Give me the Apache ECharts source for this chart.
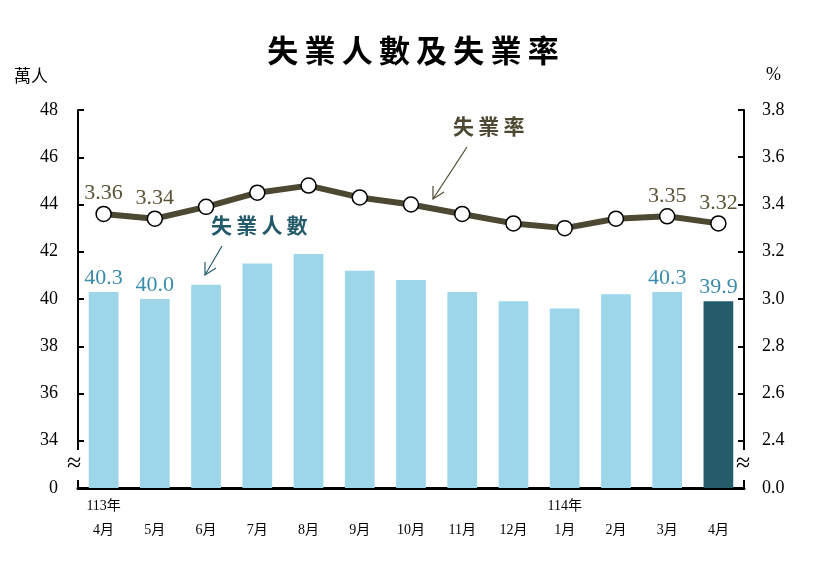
<!DOCTYPE html>
<html>
<head>
<meta charset="utf-8">
<script src="https://cdn.jsdelivr.net/npm/echarts@6/dist/echarts.min.js"></script>
<style>
    html, body {margin: 0; padding: 0; background: #fff;}
    #main {width: 826px; height: 573px;}
</style>
</head>
<body>
<div id="main"></div>
<script>
// 資料
var monthLabels = ['4月', '5月', '6月', '7月', '8月', '9月', '10月', '11月', '12月', '1月', '2月', '3月', '4月'];
var yearLabels = ['113年', '', '', '', '', '', '', '', '', '114年', '', '', ''];
var unemployed = [40.3, 40.0, 40.6, 41.5, 41.9, 41.2, 40.8, 40.3, 39.9, 39.6, 40.2, 40.3, 39.9];
var rate = [3.36, 3.34, 3.39, 3.45, 3.48, 3.43, 3.40, 3.36, 3.32, 3.30, 3.34, 3.35, 3.32];
var labelIdx = [0, 1, 11, 12];

var serif = '"Liberation Serif", "Noto Sans CJK TC", serif';
var cjk = '"Noto Sans CJK TC", sans-serif';

var categories = [];
for (var i = 0; i < monthLabels.length; i++) {
    categories.push((yearLabels[i] || ' ') + '\n' + monthLabels[i]);
}

var barData = [];
for (var i = 0; i < unemployed.length; i++) {
    var last = i == unemployed.length - 1;
    barData.push({
        value: unemployed[i],
        itemStyle: {color: last ? '#245c6c' : '#9dd6e9'},
        label: {show: labelIdx.indexOf(i) >= 0}
    });
}
var lineData = [];
for (var i = 0; i < rate.length; i++) {
    lineData.push({value: rate[i], label: {show: labelIdx.indexOf(i) >= 0}});
}

var myChart = echarts.init(document.getElementById('main'));
var option = {
    backgroundColor: '#fff',
    animation: false,
    title: {
        text: '失\u2009業\u2009人\u2009數\u2009及\u2009失\u2009業\u2009率',
        left: 'center',
        top: 30,
        textStyle: {fontFamily: cjk, fontSize: 31, fontWeight: 'bold', color: '#000'}
    },
    grid: {left: 78, right: 82, top: 110, bottom: 85},
    xAxis: {
        type: 'category',
        data: categories,
        boundaryGap: true,
        axisLine: {lineStyle: {color: '#000', width: 3}},
        axisTick: {inside: true, length: 6, lineStyle: {width: 2, color: '#000'}},
        axisLabel: {
            fontFamily: serif, fontSize: 14, color: '#000',
            lineHeight: 24, margin: 6
        }
    },
    yAxis: [
        {
            type: 'value', min: 32, max: 48, interval: 2,
            name: '萬人', nameLocation: 'end', nameGap: 26,
            nameTextStyle: {fontFamily: cjk, fontSize: 17, color: '#000', align: 'right', padding: [0, 30, 0, 0]},
            axisLine: {show: true, lineStyle: {color: '#000', width: 2}},
            axisTick: {show: true, inside: true, length: 6, lineStyle: {width: 2}},
            splitLine: {show: false},
            axisLabel: {
                fontFamily: serif, fontSize: 18, color: '#000', margin: 20,
                formatter: function (v) { return v == 32 ? '0' : v; }
            }
        },
        {
            type: 'value', min: 2.2, max: 3.8, interval: 0.2,
            name: '%', nameLocation: 'end', nameGap: 26,
            nameTextStyle: {fontFamily: serif, fontSize: 18, color: '#000', align: 'left', padding: [0, 0, 0, 22]},
            axisLine: {show: true, lineStyle: {color: '#000', width: 2}},
            axisTick: {show: true, inside: true, length: 6, lineStyle: {width: 2}},
            splitLine: {show: false},
            axisLabel: {
                fontFamily: serif, fontSize: 18, color: '#000', margin: 18,
                formatter: function (v) { return Math.abs(v - 2.2) < 1e-6 ? '0.0' : v.toFixed(1); }
            }
        }
    ],
    series: [
        {
            name: '失業人數',
            type: 'bar',
            data: barData,
            barWidth: '58%',
            label: {
                position: 'top', distance: 3,
                fontFamily: serif, fontSize: 22, color: '#3a8cab',
                formatter: function (p) { return p.value.toFixed(1); }
            }
        },
        {
            name: '失業率',
            type: 'line',
            yAxisIndex: 1,
            data: lineData,
            symbol: 'circle',
            symbolSize: 15,
            lineStyle: {color: '#4d4832', width: 6},
            itemStyle: {color: '#fff', borderColor: '#000', borderWidth: 1.5},
            label: {
                position: 'top', distance: 1,
                fontFamily: serif, fontSize: 22, color: '#5c5336',
                formatter: function (p) { return p.value.toFixed(2); }
            },
            z: 5
        }
    ],
    graphic: [
        // 截斷符號
        {type: 'rect', shape: {x: 70, y: 450, width: 16, height: 30}, style: {fill: '#fff'}, z: 100},
        {type: 'text', x: 67, y: 451, style: {text: '≈', font: '26px "Liberation Serif"', fill: '#000'}, z: 101},
        {type: 'rect', shape: {x: 737, y: 450, width: 16, height: 30}, style: {fill: '#fff'}, z: 100},
        {type: 'text', x: 736, y: 451, style: {text: '≈', font: '26px "Liberation Serif"', fill: '#000'}, z: 101},
        // 標註
        {type: 'text', x: 453, y: 116, style: {text: '失\u2009業\u2009率', font: 'bold 21px "Noto Sans CJK TC"', fill: '#4d4832'}, z: 101},
        {type: 'polyline', shape: {points: [[467, 147], [433, 199]]}, style: {stroke: '#4d4832', lineWidth: 1.2, fill: null}, z: 101},
        {type: 'polyline', shape: {points: [[433, 186], [433, 199], [444, 192]]}, style: {stroke: '#4d4832', lineWidth: 1.2, fill: null}, z: 101},
        {type: 'text', x: 211, y: 215, style: {text: '失\u2009業\u2009人\u2009數', font: 'bold 21px "Noto Sans CJK TC"', fill: '#235a6a'}, z: 101},
        {type: 'polyline', shape: {points: [[222, 246], [205, 275]]}, style: {stroke: '#235a6a', lineWidth: 1.2, fill: null}, z: 101},
        {type: 'polyline', shape: {points: [[205, 262], [205, 275], [216, 268]]}, style: {stroke: '#235a6a', lineWidth: 1.2, fill: null}, z: 101}
    ]
};
if (option && typeof option === "object") {
    myChart.setOption(option, true);
}
</script>
</body>
</html>
